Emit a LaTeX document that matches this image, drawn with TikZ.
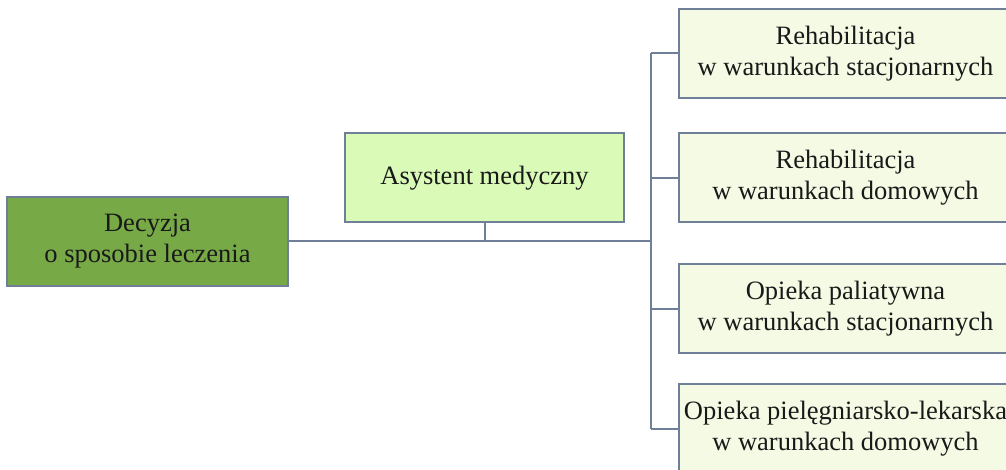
\documentclass[tikz,border=0pt]{standalone}
\usepackage{fontspec}
\setmainfont{Liberation Serif}
\definecolor{edgec}{HTML}{6F7F98}
\definecolor{darkg}{HTML}{77AA47}
\definecolor{midg}{HTML}{DAFBB8}
\definecolor{paleg}{HTML}{F4FAE4}
\begin{document}
\begin{tikzpicture}[x=1pt,y=-1pt,
  box/.style={draw=edgec,line width=2pt,minimum height=89pt,inner sep=0pt,align=center,
    font=\fontsize{26.5}{31}\selectfont,text=black!90},
  conn/.style={draw=edgec,line width=2pt}]
\clip (0,0) rectangle (1006,470);
\fill[white] (0,0) rectangle (1006,470);
\node[box,fill=darkg,minimum width=281pt] (dec) at (147.5,241.5) {Decyzja\\o sposobie leczenia};
\node[box,fill=midg,minimum width=279pt] (asy) at (484.5,178) {Asystent medyczny};
\node[box,fill=paleg,minimum width=333pt] (r1) at (845.5,53.5) {Rehabilitacja\\w warunkach stacjonarnych};
\node[box,fill=paleg,minimum width=333pt] (r2) at (845.5,178) {Rehabilitacja\\w warunkach domowych};
\node[box,fill=paleg,minimum width=333pt] (r3) at (845.5,308.5) {Opieka paliatywna\\w warunkach stacjonarnych};
\node[box,fill=paleg,minimum width=333pt] (r4) at (845.5,428.5) {Opieka pielęgniarsko-lekarska\\w warunkach domowych};
\coordinate (trunk) at (651,241.5);
\coordinate (tTop) at (651,53.5);
\coordinate (tBot) at (651,428.5);
\draw[conn] (dec.east) -- (trunk);
\draw[conn] (asy.south) -- (asy.south |- trunk);
\draw[conn] (tTop) -- (tBot);
\draw[conn] (tTop) -- (r1.west);
\draw[conn] (r2.west -| trunk) -- (r2.west);
\draw[conn] (r3.west -| trunk) -- (r3.west);
\draw[conn] (tBot) -- (r4.west);
\end{tikzpicture}
\end{document}
